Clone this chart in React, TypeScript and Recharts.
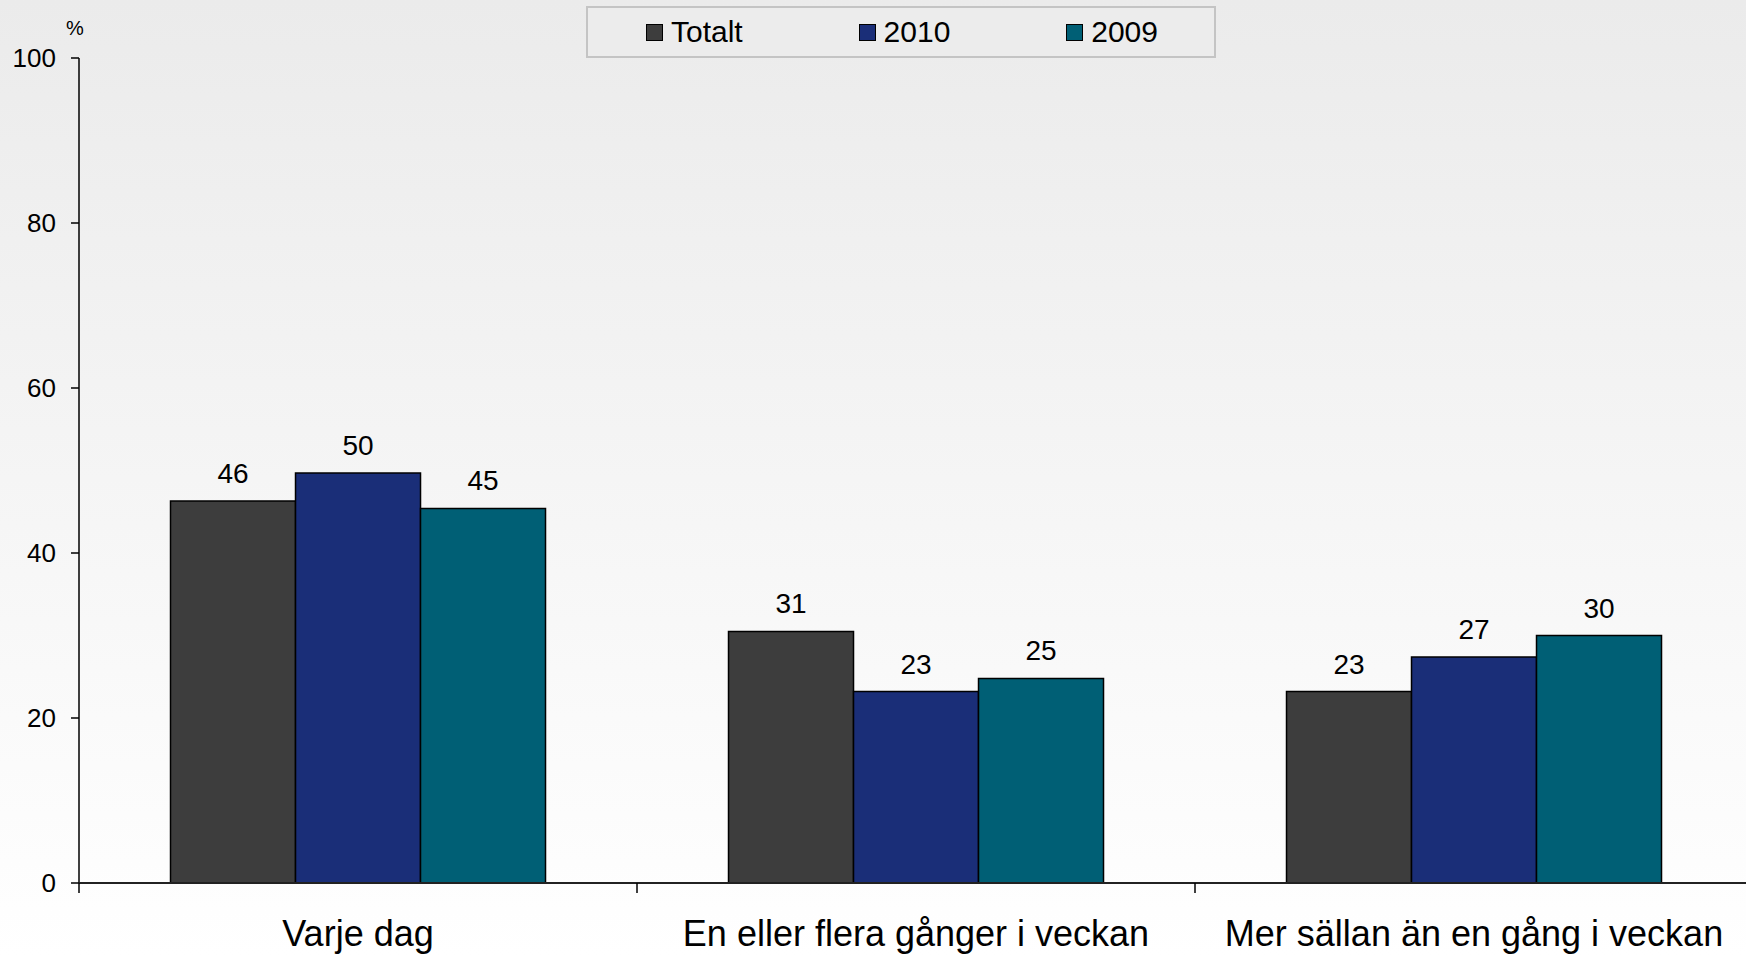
import { BarChart, Bar, XAxis, YAxis, LabelList } from 'recharts';

document.body.style.margin = '0';

const categories = ['Varje dag', 'En eller flera gånger i veckan', 'Mer sällan än en gång i veckan'];
const totalt = [46.3, 30.5, 23.2];
const y2010 = [49.7, 23.2, 27.4];
const y2009 = [45.4, 24.8, 30.0];
const yTicks = [0, 20, 40, 60, 80, 100];

const seriesList = [
  { key: 'totalt', name: 'Totalt', color: '#3d3d3d' },
  { key: 'y2010', name: '2010', color: '#1a2e78' },
  { key: 'y2009', name: '2009', color: '#005f75' },
];

const chartData = categories.map((cat, i) => ({
  cat,
  totalt: totalt[i],
  y2010: y2010[i],
  y2009: y2009[i],
}));

const FONT = "'Liberation Sans', Arial, sans-serif";
const W = 1753;
const H = 957;
const AXIS_W = 79;
const BAND = (W - AXIS_W) / categories.length;

// tick mark sits on the left edge of each category, label in the middle
function CategoryTick(props: any) {
  const { x, y, payload } = props;
  return (
    <g>
      <line x1={x - BAND / 2} x2={x - BAND / 2} y1={y - 8} y2={y + 2} stroke="#000" strokeWidth={1.5} />
      <text x={x} y={y + 55} textAnchor="middle" fontSize={36} fontFamily={FONT} fill="#000">
        {payload.value}
      </text>
    </g>
  );
}

export default function App() {
  return (
    <div
      style={{
        position: 'relative',
        width: 1746,
        height: H,
        overflow: 'hidden',
        background: 'linear-gradient(#ebebeb, #ffffff)',
        fontFamily: FONT,
      }}
    >
      <BarChart
        width={W}
        height={H}
        data={chartData}
        margin={{ top: 58, right: 0, bottom: 0, left: 0 }}
        barCategoryGap="16.4%"
        barGap={0}
      >
        <YAxis
          domain={[0, 100]}
          ticks={yTicks}
          width={AXIS_W}
          tickSize={8}
          tickMargin={15}
          axisLine={{ stroke: '#000', strokeWidth: 1.5 }}
          tickLine={{ stroke: '#000', strokeWidth: 1.5 }}
          tick={{ fontSize: 26, fill: '#000', fontFamily: FONT }}
        />
        <XAxis
          dataKey="cat"
          height={74}
          axisLine={{ stroke: '#222', strokeWidth: 2 }}
          tickLine={false}
          tick={<CategoryTick />}
          interval={0}
        />
        {seriesList.map((s) => (
          <Bar
            key={s.key}
            dataKey={s.key}
            name={s.name}
            fill={s.color}
            stroke="#000"
            strokeWidth={1.5}
            isAnimationActive={false}
          >
            <LabelList
              dataKey={s.key}
              position="top"
              offset={18}
              formatter={(v: any) => Math.round(Number(v))}
              style={{ fontSize: 28, fill: '#000', fontFamily: FONT }}
            />
          </Bar>
        ))}
      </BarChart>
      <div style={{ position: 'absolute', left: 66, top: 17, fontSize: 20, color: '#000' }}>%</div>
      <div
        style={{
          position: 'absolute',
          left: 586,
          top: 6,
          width: 630,
          height: 52,
          boxSizing: 'border-box',
          border: '2px solid #c4c4c4',
          background: '#ececec',
          display: 'flex',
          alignItems: 'center',
          justifyContent: 'space-between',
          padding: '0 56px 0 58px',
          fontSize: 30,
          color: '#000',
        }}
      >
        {seriesList.map((s) => (
          <div key={s.key} style={{ display: 'flex', alignItems: 'center' }}>
            <span
              style={{
                display: 'inline-block',
                width: 15,
                height: 15,
                background: s.color,
                border: '1.5px solid #000',
                marginRight: 8,
              }}
            />
            <span>{s.name}</span>
          </div>
        ))}
      </div>
    </div>
  );
}
